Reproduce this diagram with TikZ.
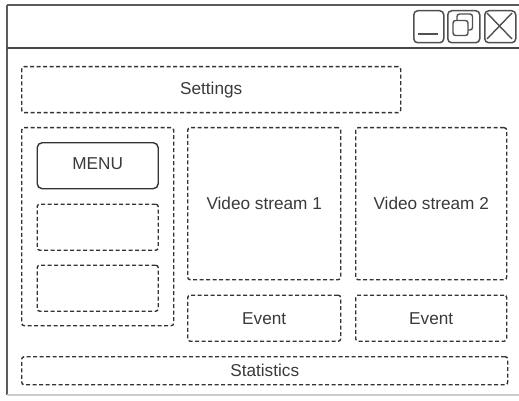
\documentclass[tikz,border=0pt]{standalone}
\usepackage{fontspec}
\setmainfont{Liberation Sans}
\definecolor{ln}{HTML}{333333}
\definecolor{tx}{HTML}{3A3A3A}
\definecolor{btn}{HTML}{505050}
\tikzset{
  dbox/.style={draw=ln, line width=1.4pt, dash pattern=on 4pt off 2.5pt, rounded corners=2.5pt,
     anchor=north west, inner sep=0pt},
  sbox/.style={draw=ln, line width=1.4pt, rounded corners=5pt,
     anchor=north west, inner sep=0pt},
  winbtn/.style={draw=btn, line width=1.5pt, rounded corners=4pt, anchor=north west, inner sep=0pt},
  lbl/.style={text=tx, font=\fontsize{17.2}{20}\selectfont},
  icon/.style={btn, line width=1.4pt},
}
\begin{document}
\begin{tikzpicture}[x=1pt,y=-1pt]
\useasboundingbox (0,0) rectangle (519,401);
\clip (0,0) rectangle (519,401);
\fill[white] (0,0) rectangle (519,401);
% window frame
\draw[draw=ln!80, line width=1.4pt] (7,5) -- (530,5);
\draw[draw=ln!80, line width=1.4pt] (7,5) -- (7,395);
\draw[draw=gray!40, line width=1.4pt] (7,395) -- (530,395);
\draw[draw=ln!90, line width=2pt] (7,48) -- (530,48);
% window buttons
\node[winbtn, minimum width=30pt, minimum height=32pt] (bmin) at (413,10) {};
\node[winbtn, minimum width=32pt, minimum height=32pt] (bres) at (447,10) {};
\node[winbtn, minimum width=31pt, minimum height=32pt] (bcls) at (484,10) {};
\coordinate (mina) at (418,34);
\coordinate (minb) at (438,34);
\draw[icon] (mina) -- (minb);
\draw[icon, rounded corners=2.5pt] (457,14) rectangle (472.5,30);
\draw[icon, rounded corners=2.5pt, fill=white] (453,20.5) rectangle (468,35.5);
\coordinate (xa) at (487,13);
\coordinate (xb) at (512,39);
\coordinate (xc) at (512,13);
\coordinate (xd) at (487,39);
\draw[icon] (xa) -- (xb);
\draw[icon] (xc) -- (xd);
% content
\node[dbox, minimum width=379pt, minimum height=46pt] (settings) at (21,66) {};
\node[lbl] at (settings.center) {Settings};
\node[dbox, minimum width=152pt, minimum height=198pt] (left) at (21,127) {};
\node[sbox, minimum width=121pt, minimum height=46pt] (menu) at (36.5,142) {};
\node[lbl, yshift=2pt] at (menu.center) {MENU};
\node[dbox, minimum width=121pt, minimum height=46pt] (m2) at (36.5,203.5) {};
\node[dbox, minimum width=121pt, minimum height=46pt] (m3) at (36.5,264.5) {};
\node[dbox, minimum width=153pt, minimum height=152pt] (v1) at (187,127) {};
\node[lbl] at (v1.center) {Video stream 1};
\node[dbox, minimum width=151pt, minimum height=152pt] (v2) at (355,127) {};
\node[lbl] at (v2.center) {Video stream 2};
\node[dbox, minimum width=153pt, minimum height=46pt] (e1) at (187,294.5) {};
\node[lbl] at (e1.center) {Event};
\node[dbox, minimum width=151pt, minimum height=46pt] (e2) at (355,294.5) {};
\node[lbl] at (e2.center) {Event};
\node[dbox, minimum width=486pt, minimum height=28pt] (stats) at (21,356) {};
\node[lbl] at (stats.center) {Statistics};
\end{tikzpicture}
\end{document}
